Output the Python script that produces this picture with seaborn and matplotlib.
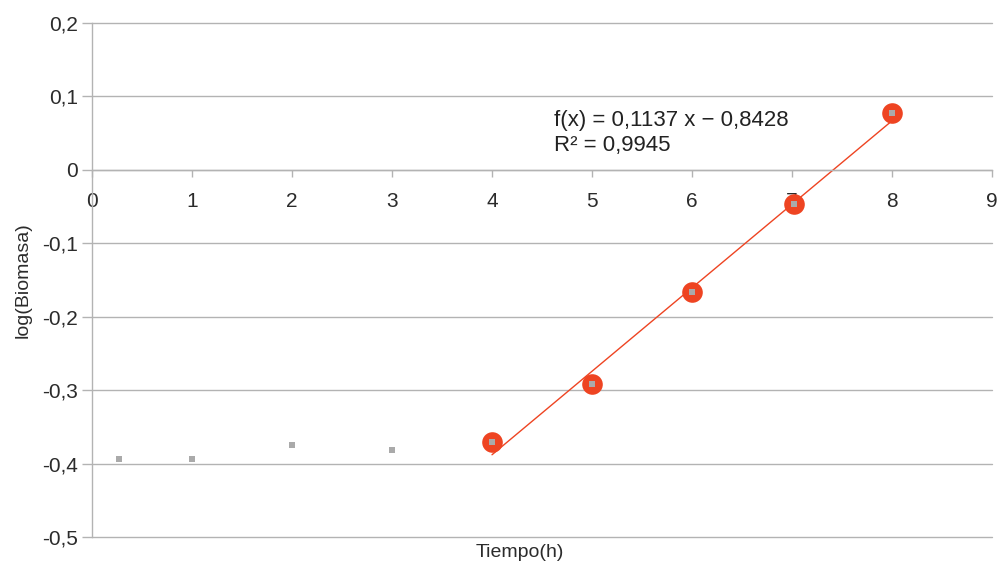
import matplotlib
matplotlib.use("Agg")
import matplotlib.pyplot as plt
import seaborn as sns
import numpy as np
import pandas as pd

tiempo = [0.27, 1, 2, 3, 4, 5, 6, 7.02, 8]
log_biomasa = [-0.394, -0.394, -0.375, -0.381, -0.371, -0.291, -0.166, -0.046, 0.078]
fit_idx_start = 4
slope = 0.1137
intercept = -0.8428
fit_x = [4, 8]
eq_line1 = "f(x) = 0,1137 x − 0,8428"
eq_line2 = "R² = 0,9945"
xticks = list(range(0, 10))
yticks = [-0.5, -0.4, -0.3, -0.2, -0.1, 0, 0.1, 0.2]

sns.set_theme(style="white")
plt.rcParams['font.family'] = ['Liberation Sans', 'DejaVu Sans']

df = pd.DataFrame({"t": tiempo, "y": log_biomasa})
df_fit = df.iloc[fit_idx_start:]

fig = plt.figure(figsize=(10.01, 5.70), dpi=100)
ax = fig.add_axes([92/1001, 1-537/570, 900/1001, 514/570])

grid_c = "#b3b3b3"
txt_c = "#2b2b2b"

# spines first (set_position resets tick styling)
for s in ["top", "right"]:
    ax.spines[s].set_visible(False)
ax.spines["bottom"].set_position(("data", 0))
ax.spines["left"].set_color(grid_c)
ax.spines["bottom"].set_color(grid_c)
ax.spines["left"].set_linewidth(1.0)
ax.spines["bottom"].set_linewidth(1.0)

for yv in yticks:
    ax.axhline(yv, color=grid_c, lw=1.0, zorder=0, clip_on=False)

orange = "#ee4422"
sns.scatterplot(data=df_fit, x="t", y="y", ax=ax, s=220, color=orange,
                edgecolor=orange, linewidth=0, zorder=3, legend=False)
sns.scatterplot(data=df, x="t", y="y", ax=ax, s=22, marker="s", color="#aaaaaa",
                linewidth=0, zorder=4, legend=False)
fx = np.array(fit_x, dtype=float)
sns.lineplot(x=fx, y=slope*fx + intercept, ax=ax, color=orange, lw=1.0, zorder=2)

ax.set_xlim(0, 9)
ax.set_ylim(-0.5, 0.2)
ax.set_yticks(yticks)
ax.set_yticklabels([("%g" % v).replace(".", ",") for v in yticks])
ax.set_xticks(xticks)
ax.set_xticklabels([str(v) for v in xticks])
ax.tick_params(axis="y", direction="out", length=7, color=grid_c, width=1, pad=3,
               left=True, labelsize=15, labelcolor=txt_c)
ax.tick_params(axis="x", direction="out", length=5, color=grid_c, width=1, pad=11,
               bottom=True, labelsize=15, labelcolor=txt_c)

ax.set_xlabel("Tiempo(h)", fontsize=14, color=txt_c)
ax.xaxis.label.set_va("center")
ax.xaxis.set_label_coords(0.475, -0.031)
ax.set_ylabel("log(Biomasa)", fontsize=14, color=txt_c)
ax.yaxis.label.set_va("center")
ax.yaxis.set_label_coords(-0.076, 0.5)

ax.text(4.62, 0.0668, eq_line1, fontsize=16, color="#222222", va="center", ha="left")
ax.text(4.62, 0.0327, eq_line2, fontsize=16, color="#222222", va="center", ha="left")

fig.savefig("out.png", dpi=100)
